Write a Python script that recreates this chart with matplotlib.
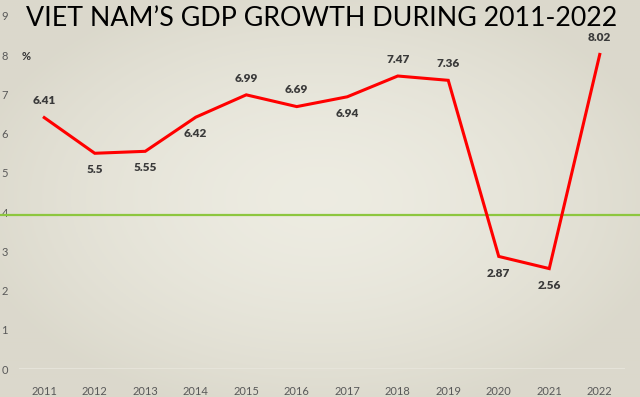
import numpy as np
import matplotlib.pyplot as plt

years = ['2011', '2012', '2013', '2014', '2015', '2016',
         '2017', '2018', '2019', '2020', '2021', '2022']
growth = [6.41, 5.5, 5.55, 6.42, 6.99, 6.69, 6.94, 7.47, 7.36, 2.87, 2.56, 8.02]
# label above (1) or below (-1) the point
label_side = [1, -1, -1, -1, 1, 1, -1, 1, 1, -1, -1, 1]
ref_level = 3.93

plt.rcParams['font.family'] = ['Lato', 'DejaVu Sans']

fig = plt.figure(figsize=(6.4, 3.97), dpi=100)

# radial background
bg = fig.add_axes([0, 0, 1, 1], zorder=-10)
yy, xx = np.mgrid[-1:1:200j, -1:1:320j]
r = np.sqrt((xx * 0.9) ** 2 + (yy * 0.9) ** 2)
c0 = np.array([0.93, 0.925, 0.885])
c1 = np.array([0.86, 0.85, 0.80])
img = c0 + (c1 - c0) * np.clip(r, 0, 1)[..., None] ** 1.6
bg.imshow(img, aspect='auto', extent=[0, 1, 0, 1])
bg.axis('off')

ax = fig.add_axes([19 / 640, (397 - 369) / 397, 606 / 640, 353 / 397], zorder=1)
ax.patch.set_alpha(0)

x = np.arange(len(years))
ax.axhline(0, color='#e8e6dc', lw=1.2)
ax.axhline(ref_level, color='#8dc63f', lw=1.6, xmin=-0.05, xmax=1.05, clip_on=False)
ax.plot(x, growth, color='#ff0000', lw=2.2, solid_joinstyle='miter')

for xi, v, s in zip(x, growth, label_side):
    ax.annotate(f'{v:g}', (xi, v), xytext=(0, 12 * s), textcoords='offset points',
                ha='center', va='center', fontsize=8.5, fontweight='heavy',
                color='#3a3a3a')

ax.set_xlim(-0.5, len(years) - 0.5)
ax.set_ylim(0, 9)
ax.set_xticks(x)
ax.set_xticklabels(years)
ax.set_yticks(range(10))
ax.tick_params(length=0, labelsize=8, labelcolor='#595959', pad=12)
ax.tick_params(axis='y', pad=8)
for sp in ax.spines.values():
    sp.set_visible(False)

fig.text(22 / 640, 1 - 57 / 397, '%', fontsize=8, fontweight='bold',
         color='#333333', ha='left', va='center')
fig.text(322 / 640, 1 - 19 / 397, 'VIET NAM\u2019S GDP GROWTH DURING 2011-2022',
         fontsize=19.3, color='black', ha='center', va='center')

fig.savefig('out.png', dpi=100)
